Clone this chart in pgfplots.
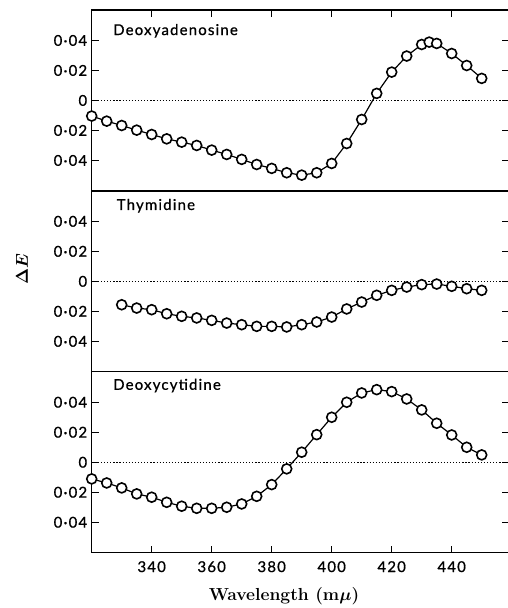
\documentclass[border=0pt]{standalone}
\usepackage{fontspec}
\usepackage{bm}
\usepackage{pgfplots}
\pgfplotsset{compat=1.18}
\newfontfamily\gill[LetterSpace=8, FakeBold=0.8]{Lato}
\tikzset{panellabel/.style={anchor=base west, font=\gill\fontsize{15}{17}\selectfont}}
\pgfplotsset{
  panel/.style={
    scale only axis, width=417.3bp, height=180.9bp,
    xmin=320, xmax=459.1, ymin=-0.0603, ymax=0.0603,
    anchor=north west, clip=false,
    scaled y ticks=false, scaled x ticks=false,
    axis line style={line width=1.3pt},
    tick style={line width=1.2pt, black},
    major tick length=7bp,
    tick align=inside,
    ytick={-0.04,-0.02,0,0.02,0.04},
    yticklabels={0·04,0·02,0,0·02,0·04},
    ytick pos=both,
    ticklabel style={font=\gill\fontsize{15}{17}\selectfont},
    /pgf/number format/assume math mode=true,
    yticklabel style={xshift=-1bp},
  },
  series/.style={black, line width=1.2pt, mark=*, mark size=5pt,
    mark options={fill=white, draw=black, line width=1.6pt}},
  zero/.style={black, line width=1.4pt, dash pattern=on 1.2pt off 1.9pt, forget plot},
}
\begin{document}
\begin{tikzpicture}
% ---------- Deoxyadenosine ----------
\begin{axis}[panel, at={(0,0)},
  xtick={340,360,380,400,420,440}, xticklabels={}, xtick pos=upper]
\addplot[zero] coordinates {(320,0) (459.1,0)};
\addplot[series] coordinates {
(320,-0.0104) (325,-0.0138) (330,-0.0167) (335,-0.0198) (340,-0.0227)
(345,-0.0256) (350,-0.0278) (355,-0.0300) (360,-0.0331) (365,-0.0360)
(370,-0.0393) (375,-0.0427) (380,-0.0453) (385,-0.0482) (390,-0.0498)
(395,-0.0482) (400,-0.0420) (405,-0.0287) (410,-0.0127) (415,0.0047)
(420,0.0189) (425,0.0296) (430,0.0373) (432.5,0.0389) (435,0.0380)
(440,0.0313) (445,0.0233) (450,0.0147)};
\node[panellabel] at (axis cs:326,0.0436) {Deoxyadenosine};
\end{axis}
% ---------- Thymidine ----------
\begin{axis}[panel, at={(0,-180.9bp)}, xtick=\empty,
  ylabel={\fontsize{16}{18}\selectfont$\bm{\Delta E}$},
  ylabel style={at={(rel axis cs:-0.167,0.57)}, anchor=center}]
\addplot[zero] coordinates {(320,0) (459.1,0)};
\addplot[series] coordinates {
(330,-0.0156) (335,-0.0178) (340,-0.0189) (345,-0.0216) (350,-0.0233)
(355,-0.0244) (360,-0.0260) (365,-0.0278) (370,-0.0289) (375,-0.0300)
(380,-0.0300) (385,-0.0304) (390,-0.0289) (395,-0.0271) (400,-0.0238)
(405,-0.0184) (410,-0.0138) (415,-0.0093) (420,-0.0060) (425,-0.0038)
(430,-0.0022) (435,-0.0018) (440,-0.0033) (445,-0.0049) (450,-0.0060)};
\node[panellabel] at (axis cs:327.2,0.0476) {Thymidine};
\end{axis}
% ---------- Deoxycytidine ----------
\begin{axis}[panel, at={(0,-361.8bp)},
  xtick={340,360,380,400,420,440}, xtick pos=lower,
  xticklabels={340,360,380,400,420,440},
  xticklabel style={yshift=-5bp}]
\addplot[zero] coordinates {(320,0) (459.1,0)};
\addplot[series] coordinates {
(320,-0.0111) (325,-0.0138) (330,-0.0171) (335,-0.0211) (340,-0.0233)
(345,-0.0267) (350,-0.0293) (355,-0.0307) (360,-0.0307) (365,-0.0300)
(370,-0.0278) (375,-0.0227) (380,-0.0149) (385,-0.0044) (390,0.0067)
(395,0.0184) (400,0.0300) (405,0.0400) (410,0.0462) (415,0.0484)
(420,0.0471) (425,0.0422) (430,0.0349) (435,0.0260) (440,0.0182)
(445,0.0100) (450,0.0049)};
\node[panellabel] at (axis cs:326,0.0483) {Deoxycytidine};
\node[anchor=base, font=\bfseries\fontsize{17.5}{20}\selectfont] at (axis cs:384.1,-0.0921) {Wavelength (m$\bm{\mu}$)};
\end{axis}
\pgfresetboundingbox
\path[use as bounding box] (-91.7bp,10bp) rectangle (416.3bp,-598bp);
\end{tikzpicture}
\end{document}
